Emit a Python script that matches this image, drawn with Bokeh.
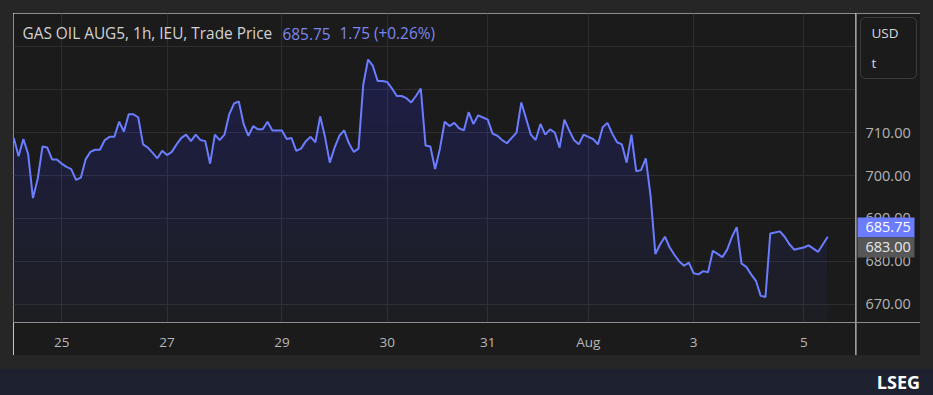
import numpy as np
from bokeh.plotting import figure
from bokeh.models import Range1d, FixedTicker, Label, Div, Span
from bokeh.layouts import column, row
from bokeh.embed import file_html
from bokeh.resources import INLINE
from bokeh.core.properties import value

# ---------------- data ----------------
prices = [
    708.75, 704.5, 708.5, 705, 694.75, 699.25, 706.75, 706.5, 703.75, 703.75,
    702.75, 702, 701.5, 699, 699.5, 703.75, 705.5, 706, 706, 708.25,
    709, 709, 712.5, 710.25, 714.25, 714.25, 713.5, 707.25, 706.5, 705.25,
    704, 705.75, 704.75, 705.5, 707.25, 708.75, 709.5, 708, 709.5, 708.25,
    708, 702.75, 709.5, 708.25, 709.5, 714.25, 716.75, 717.25, 712, 709.25,
    711.5, 710.75, 710.75, 712.5, 710.5, 710.5, 710.5, 708.5, 708.75, 705.75,
    706.25, 708, 709, 707.75, 713.75, 709, 703, 706.5, 709.25, 710.5,
    707.5, 705.5, 706.25, 721.25, 727, 725.5, 722, 722, 721.75, 720.25,
    718.5, 718.5, 718, 717, 718.5, 720.25, 707, 706.75, 701.5, 706.25,
    712.5, 711.5, 712.25, 711, 710.5, 714.75, 712, 714, 713.5, 713,
    709.75, 709.25, 708.25, 707.5, 708.75, 710, 717, 713.25, 709.5, 708.25,
    712, 709.5, 710.75, 710, 706.5, 713, 710.5, 708.25, 707.25, 709.5,
    709, 708.5, 707.25, 711.25, 712.25, 709.75, 707.75, 707.25, 703, 709.5,
    701, 701.25, 704, 695.25, 681.75, 684, 685.75, 683.25, 681.5, 680,
    679, 679.75, 677.25, 677, 677.75, 677.5, 682.5, 681.75, 681, 682.75,
    685.75, 688, 679.5, 678.75, 677, 675.5, 672, 671.75, 686.5, 686.75,
    687, 685.75, 684, 682.75, 683, 683.25, 683.75, 683, 682.25, 684,
    685.75,
]
tick_idx = [10, 32, 56, 78, 99, 120, 142, 165]
tick_labels = ["25", "27", "29", "30", "31", "Aug", "3", "5"]
y_label_ticks = [670, 680, 690, 700, 710]
y_grid_ticks = [670, 680, 690, 700, 710, 720, 730]
title_text = "GAS OIL AUG5, 1h, IEU, Trade Price"
last_price = 685.75
change = 1.75
change_pct = 0.26
ref_price = 683.00
unit_top, unit_bottom = "USD", "t"
brand = "LSEG"

# ---------------- style ----------------
FONT = "Open Sans"
BG = "#1b1b1b"
OUTER = "#262626"
BAND = "#1e2230"
LINE = "#6b7cff"
FILL = "#6070f0"
AXIS_LBL = "#b4b4b4"

x = np.arange(len(prices))
y = np.array(prices, dtype=float)

y_lo, y_hi = 665.8, 737.7
FRAME_H, XAX_H, MAIN_W, RIGHT_W = 309, 33, 842, 65
k = FRAME_H / (y_hi - y_lo)          # pixels per price unit

# ---------------- main chart ----------------
p = figure(width=MAIN_W, height=FRAME_H + XAX_H,
           x_range=Range1d(-0.06, 175.8), y_range=Range1d(y_lo, y_hi),
           y_axis_location=None, output_backend="svg", toolbar_location=None,
           background_fill_color=BG, border_fill_color=BG,
           min_border_left=0, min_border_top=0, min_border_right=0, min_border_bottom=XAX_H)
p.outline_line_color = None
p.margin = 0

p.varea(x=x, y1=np.full(len(y), y_lo), y2=y, fill_color=FILL, fill_alpha=0.03)
for lv in np.linspace(667, 728, 20):
    p.varea(x=x, y1=np.full(len(y), lv), y2=np.maximum(y, lv), fill_color=FILL, fill_alpha=0.0105)
p.line(x=x, y=y, line_color=LINE, line_width=2)

p.xaxis.ticker = FixedTicker(ticks=tick_idx)
p.xaxis.major_label_overrides = {i: l for i, l in zip(tick_idx, tick_labels)}
p.xaxis.axis_line_color = "#8c8c8c"
p.xaxis.major_tick_in = 0
p.xaxis.major_tick_out = 0
p.xaxis.minor_tick_line_color = None
p.xaxis.major_label_text_color = "#b8b8b8"
p.xaxis.major_label_text_font = FONT
p.xaxis.major_label_text_font_size = "13.5px"
p.xaxis.major_label_standoff = 10

p.xgrid.ticker = FixedTicker(ticks=tick_idx)
p.ygrid.ticker = FixedTicker(ticks=y_grid_ticks)
p.grid.grid_line_color = "#2e2e2e"
p.grid.grid_line_width = 1

p.add_layout(Label(x=9, y=733.0, x_units="screen", text=title_text, text_baseline="middle",
                   text_color="#d2d2d2", text_font=FONT, text_font_size="15.4px"))
p.add_layout(Label(x=269, y=733.0, x_units="screen", text=f"{last_price:.2f}", text_baseline="middle",
                   text_color="#7b86ee", text_font=FONT, text_font_size="15.4px"))
p.add_layout(Label(x=326, y=733.0, x_units="screen", text=f"{change:.2f} (+{change_pct:.2f}%)",
                   text_baseline="middle", text_color="#7b86ee", text_font=FONT, text_font_size="15.4px"))

# ---------------- right price-scale panel ----------------
r = figure(width=RIGHT_W, height=FRAME_H + XAX_H,
           x_range=Range1d(0, RIGHT_W), y_range=Range1d(y_lo, y_hi),
           x_axis_location=None, y_axis_location=None, output_backend="svg", toolbar_location=None,
           background_fill_color=BG, border_fill_color=BG,
           min_border_left=0, min_border_top=0, min_border_right=0, min_border_bottom=0)
unaligned = True
try:
    p.frame_align = False
    r.frame_align = False
except Exception:
    unaligned = False
if unaligned:
    r.y_range = Range1d(y_lo - XAX_H / k, y_hi)
else:
    r.min_border_bottom = XAX_H
r.outline_line_color = None
r.grid.visible = False
r.margin = 0

r.add_layout(Span(location=0.5, dimension="height", line_color="#c8c8c8", line_width=1))
r.add_layout(Span(location=y_lo, dimension="width", line_color="#8c8c8c", line_width=1))

r.text(x=[10] * len(y_label_ticks), y=y_label_ticks, text=[f"{v:.2f}" for v in y_label_ticks],
       text_baseline="middle", text_align="left", text_color=AXIS_LBL,
       text_font=value(FONT), text_font_size="14.5px")

badge_y = [last_price + 9.3 / k, ref_price + 1.1 / k]
badge_txt = [f"{last_price:.2f}", f"{ref_price:.2f}"]
r.rect(x=[30.5, 30.5], y=badge_y, width=57, height=20, width_units="screen", height_units="screen",
       fill_color=[LINE, "#575757"], line_color=None)
r.text(x=[10, 10], y=badge_y, text=badge_txt, text_baseline="middle", text_align="left",
       text_color=["#ffffff", "#e8e8e8"], text_font=value(FONT), text_font_size="14.5px")

box_y = y_hi - 34.5 / k
try:
    r.rect(x=[33], y=[box_y], width=56, height=61, width_units="screen", height_units="screen",
           fill_color=BG, line_color="#3c3c3c", line_width=1, border_radius=5)
except Exception:
    r.rect(x=[33], y=[box_y], width=56, height=61, width_units="screen", height_units="screen",
           fill_color=BG, line_color="#3c3c3c", line_width=1)
r.text(x=[16, 16], y=[y_hi - 19 / k, y_hi - 49 / k], text=[unit_top, unit_bottom],
       text_baseline="middle", text_align="left", text_color="#d8d8d8",
       text_font=value(FONT), text_font_size="13.5px")

# ---------------- page frame ----------------
def filler(w, h, color=OUTER):
    return Div(text="", width=w, height=h, margin=0, styles={"background-color": color})

PAGE_W = 933
band = Div(text=(f'<div style="width:{PAGE_W - 13}px;text-align:right;color:#ffffff;'
                 f'font-family:\'{FONT}\';font-weight:700;font-size:18px;line-height:26px;">{brand}</div>'),
           width=PAGE_W, height=26, margin=0, styles={"background-color": BAND})

middle = row(filler(13, 342), p, r, filler(13, 342), spacing=0, margin=0)
layout = column(filler(PAGE_W, 13), middle, filler(PAGE_W, 14), band, spacing=0, margin=0)

open("out.html", "w").write(file_html(layout, INLINE))
